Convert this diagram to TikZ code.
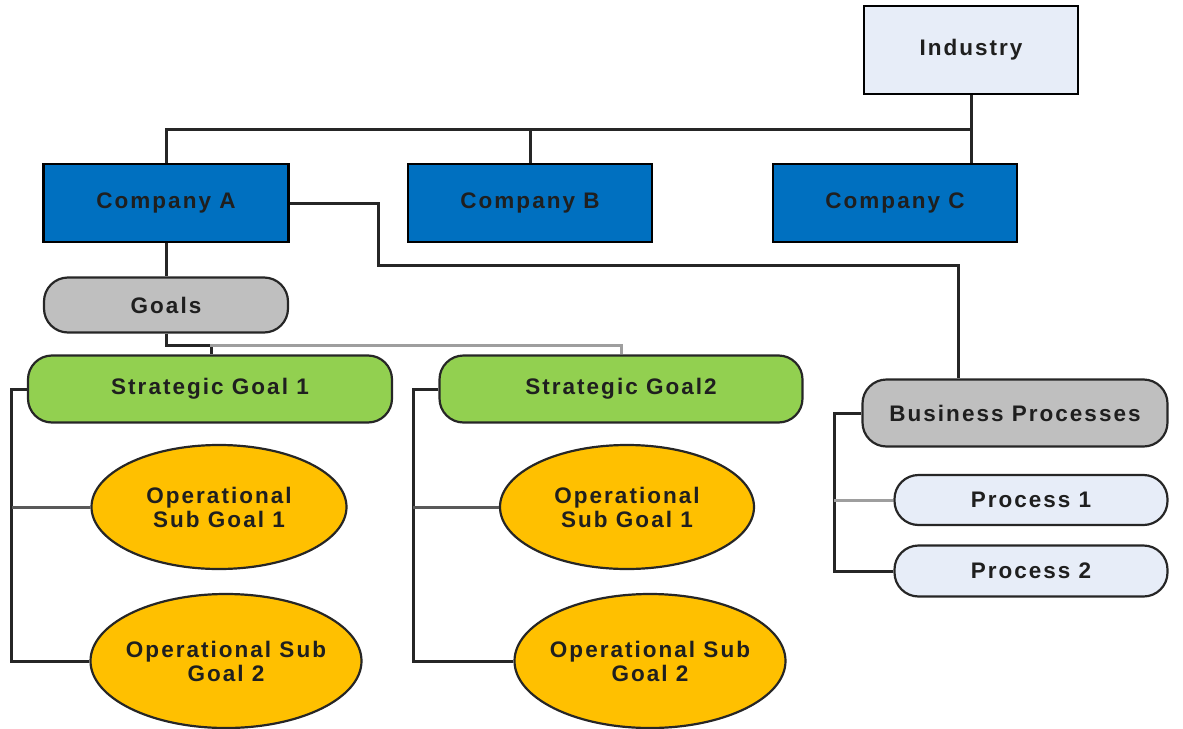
\documentclass[tikz,border=0pt]{standalone}
\usepackage{fontspec}
\setmainfont{Liberation Sans}[LetterSpace=9]
\usetikzlibrary{shapes.geometric}
\definecolor{indfill}{HTML}{E7EDF8}
\definecolor{compblue}{HTML}{0070C0}
\definecolor{goalgray}{HTML}{BFBFBF}
\definecolor{stratgreen}{HTML}{92D050}
\definecolor{opgold}{HTML}{FFC000}
\definecolor{linedark}{HTML}{262626}
\definecolor{linelight}{HTML}{9E9E9E}
\tikzset{
  lbl/.style={font=\fontsize{22.5}{24}\selectfont\bfseries, text=black!88, inner sep=0pt, align=center},
  box/.style={lbl, draw=black, line width=2.2pt, rectangle},
  pill/.style={lbl, draw=black!85, line width=2.2pt, rectangle, rounded corners=24pt},
  oval/.style={draw=black!85, line width=2.2pt, ellipse, inner sep=0pt},
  conn/.style={draw=linedark, line width=3pt},
  connlight/.style={draw=linelight, line width=3pt},
}
\begin{document}
\begin{tikzpicture}[x=1pt,y=-1pt]
\useasboundingbox (0,0) rectangle (1183,728);

% top level
\node[box, fill=indfill, minimum width=214pt, minimum height=88pt] (ind) at (971,50) {Industry};

% companies
\node[box, fill=compblue, minimum width=245pt, minimum height=78pt] (ca) at (166,203) {Company A};
\node[box, fill=compblue, minimum width=244pt, minimum height=78pt] (cb) at (530,203) {Company B};
\node[box, fill=compblue, minimum width=244pt, minimum height=78pt] (cc) at (895,203) {Company C};

% goals branch
\node[pill, fill=goalgray, minimum width=244pt, minimum height=55pt] (goals) at (166,305) {Goals};
\node[pill, fill=stratgreen, minimum width=364pt, minimum height=67pt] (sg1) at (210,389) {Strategic Goal 1};
\node[pill, fill=stratgreen, minimum width=363pt, minimum height=67pt] (sg2) at (621,389) {Strategic Goal2};

\node[oval, fill=opgold, minimum width=255pt, minimum height=124pt,
      label={[lbl]center:Operational\\Sub Goal 1}] (o11) at (219,507) {};
\node[oval, fill=opgold, minimum width=271pt, minimum height=134pt,
      label={[lbl]center:Operational Sub\\Goal 2}] (o12) at (226,661) {};
\node[oval, fill=opgold, minimum width=254pt, minimum height=124pt,
      label={[lbl]center:Operational\\Sub Goal 1}] (o21) at (627,507) {};
\node[oval, fill=opgold, minimum width=271pt, minimum height=134pt,
      label={[lbl]center:Operational Sub\\Goal 2}] (o22) at (650,661) {};

% process branch
\node[pill, fill=goalgray, minimum width=305pt, minimum height=67pt] (bp) at (1015,413) {Business Processes};
\node[pill, fill=indfill, minimum width=273pt, minimum height=50pt] (p1) at (1031,500) {Process 1};
\node[pill, fill=indfill, minimum width=273pt, minimum height=51pt] (p2) at (1031,571) {Process 2};

% industry to companies
\draw[conn] (ind.south) -- ++(0,34) coordinate (bus) -| (ca.north);
\draw[conn] (bus -| cb.north) -- (cb.north);
\draw[conn] (bus) -- (bus |- cc.north);

% company A to its goals and processes
\draw[conn] (ca.south) -- (goals.north);
\draw[conn] (ca.east) -- ++(89,0) -- ++(0,62) -| ([xshift=-57pt]bp.north);

% goals to strategic goals
\draw[conn] (goals.south) -- ++(0,12) coordinate (gj) -| ([xshift=1pt]sg1.north);
\draw[connlight] (gj -| sg1.north) -| (sg2.north);

% strategic goal 1 children
\draw[conn] (sg1.west) -- ++(-15,0) coordinate (s1) |- (o12.west);
\draw[conn, draw=black!65] (s1 |- o11.west) -- (o11.west);

% strategic goal 2 children
\draw[conn] (sg2.west) -- ++(-25,0) coordinate (s2) |- (o22.west);
\draw[conn, draw=black!65] (s2 |- o21.west) -- (o21.west);

% business process children
\draw[conn] (bp.west) -- ++(-27,0) coordinate (b1) |- (p2.west);
\draw[connlight] (b1 |- p1.west) -- (p1.west);
\end{tikzpicture}
\end{document}
